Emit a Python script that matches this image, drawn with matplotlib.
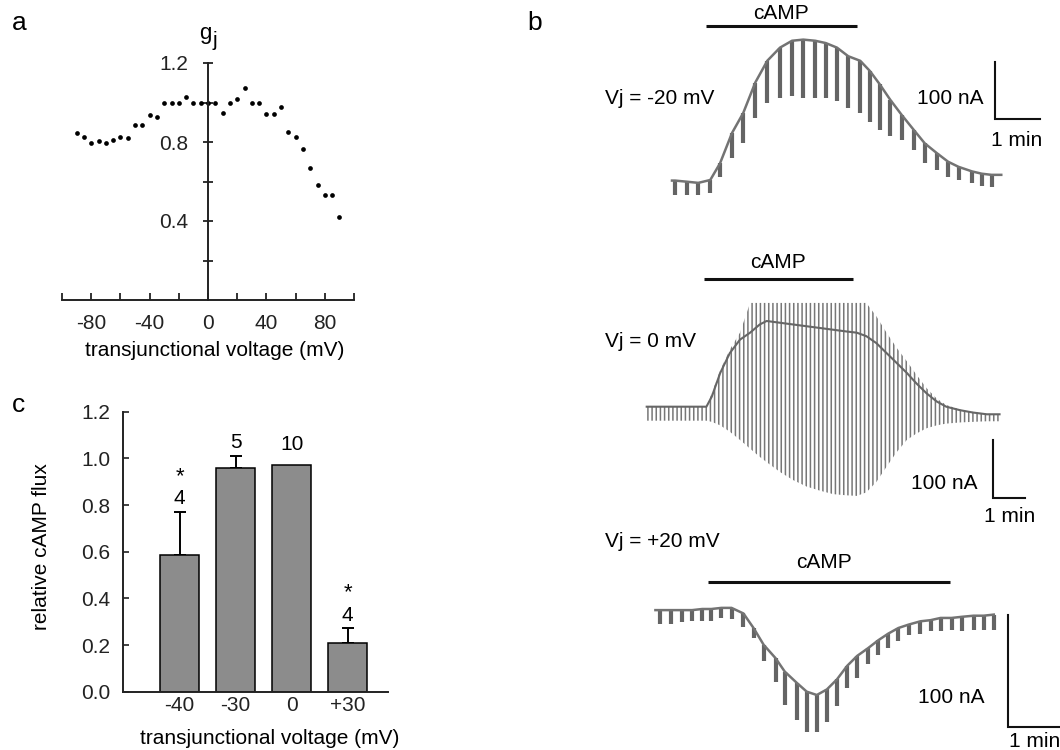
import numpy as np
import matplotlib
matplotlib.use("Agg")
import matplotlib.pyplot as plt

plt.rcParams['font.family'] = ['Liberation Sans', 'DejaVu Sans']
plt.rcParams['axes.unicode_minus'] = False
plt.rcParams['hatch.linewidth'] = 1.1
plt.rcParams['hatch.color'] = '#777777'

# ---------------- data ----------------
# panel a: junctional conductance vs transjunctional voltage
gj_voltage = [-90, -85, -80, -75, -70, -65, -60, -55, -50, -45, -40, -35, -30, -25,
              -20, -15, -10, -5, 0, 5, 10, 15, 20, 25, 30, 35, 40, 45, 50, 55, 60,
              65, 70, 75, 80, 85, 90]
gj_values = [0.845, 0.825, 0.795, 0.805, 0.795, 0.81, 0.825, 0.82, 0.885, 0.885,
             0.935, 0.925, 1.0, 1.0, 1.0, 1.03, 1.0, 1.0, 1.0, 1.0, 0.945, 1.0,
             1.02, 1.075, 1.0, 1.0, 0.94, 0.94, 0.975, 0.85, 0.825, 0.765, 0.67,
             0.58, 0.53, 0.53, 0.42]
a_xticks = [-100, -80, -60, -40, -20, 0, 20, 40, 60, 80, 100]
a_xticklabels = ['', '-80', '', '-40', '', '0', '', '40', '', '80', '']
a_yticks = [0.2, 0.4, 0.6, 0.8, 1.0, 1.2]
a_yticklabels = ['', '0.4', '', '0.8', '', '1.2']

# panel c: relative cAMP flux
c_categories = ['-40', '-30', '0', '+30']
c_flux = [0.585, 0.96, 0.972, 0.207]
c_err = [0.185, 0.05, 0.0, 0.065]
c_n = ['4', '5', '10', '4']
c_signif = [True, False, False, True]
c_yticks = [0.0, 0.2, 0.4, 0.6, 0.8, 1.0, 1.2]

# panel b: current traces (time in s, current in nA relative to initial holding)
neg_t = [0, 16, 31, 47, 60, 76, 91, 107, 123, 140, 156, 171, 187, 201, 216, 231,
         247, 260, 273, 287, 302, 318, 333, 349, 364, 378, 396, 409, 422]
neg_hold = [-1, -3, -5, 0, 29, 82, 117, 170, 208, 231, 243, 245, 243, 239, 231, 216,
            208, 190, 167, 140, 114, 88, 64, 47, 32, 23, 15, 11, 9]
neg_pulse = [-26, -26, -26, -22, 6, 38, 64, 108, 135, 143, 146, 143, 143, 143, 137,
             126, 117, 102, 88, 76, 70, 53, 29, 18, 6, 0, -6, -11, -12]

zero_t = [0, 112, 122, 138, 156, 175, 194, 212, 225, 250, 275, 300, 325, 350, 375,
          394, 412, 431, 450, 469, 488, 506, 525, 544, 562, 588, 612, 638, 662]
zero_hold = [0, 0, 17, 58, 92, 115, 127, 141, 147, 144, 141, 138, 135, 132, 129, 127,
             121, 109, 92, 75, 58, 40, 23, 9, 0, -6, -10, -13, -13]
zero_top = [0, 0, 23, 63, 98, 127, 178, 178, 178, 178, 178, 178, 178, 178, 178, 178,
            178, 155, 127, 101, 78, 55, 32, 14, 3, -5, -9, -12, -13]
zero_bottom = [-24, -24, -26, -32, -43, -57, -72, -86, -95, -112, -126, -137, -144,
               -150, -152, -153, -147, -129, -103, -78, -57, -46, -37, -32, -29, -27,
               -26, -25, -25]

pos_t = [0, 12, 24, 35, 46, 56, 67, 78, 91, 102, 113, 126, 136, 149, 160, 171, 182,
         193, 204, 215, 227, 238, 249, 260, 271, 284, 295, 306, 318, 329, 342, 353, 364]
pos_hold = [-1, -1, -1, -1, 0, 0, 1, 1, -4, -17, -32, -44, -56, -66, -74, -77, -72,
            -63, -51, -42, -35, -28, -22, -17, -14, -11, -10, -8, -8, -7, -6, -6, -5]
pos_pulse = [-13, -13, -12, -11, -11, -11, -8, -9, -16, -26, -47, -65, -86, -99, -110,
             -110, -101, -87, -71, -62, -49, -41, -35, -29, -23, -22, -20, -20, -19,
             -20, -19, -19, -19]

# ---------------- figure ----------------
W, H = 1060, 750
fig = plt.figure(figsize=(W / 100, H / 100), dpi=100)
FS = 15


def px_axes(x0, y0, x1, y1):
    return fig.add_axes([x0 / W, 1 - y1 / H, (x1 - x0) / W, (y1 - y0) / H])


def fig_text(x, y, s, **kw):
    return fig.text(x / W, 1 - y / H, s, **kw)


# ---- panel a ----
axa = px_axes(62, 63, 354, 300)
axa.plot(gj_voltage, gj_values, 'o', ms=3.4, color='black', mec='none', clip_on=False)
axa.set_xlim(-100, 100)
axa.set_ylim(0, 1.2)
axa.spines['left'].set_position(('data', 0))
axa.spines['top'].set_visible(False)
axa.spines['right'].set_visible(False)
for s in ('left', 'bottom'):
    axa.spines[s].set_linewidth(1.4)
    axa.spines[s].set_color('#222222')
axa.set_xticks(a_xticks)
axa.set_xticklabels(a_xticklabels)
axa.set_yticks(a_yticks)
axa.set_yticklabels(a_yticklabels)
axa.tick_params(axis='x', direction='in', length=5, width=1.3, pad=10, labelsize=FS,
                colors='#222222')
axa.tick_params(axis='y', direction='inout', length=7, width=1.3, pad=11, labelsize=FS,
                colors='#222222')
axa.patch.set_visible(False)
fig_text(205, 33, 'g', ha='center', va='center', fontsize=FS + 1)
fig_text(215, 40, 'j', ha='center', va='center', fontsize=FS)
fig_text(215, 351, 'transjunctional voltage (mV)', ha='center', va='center', fontsize=FS)
fig_text(12, 30, 'a', ha='left', va='baseline', fontsize=19)

# ---- panel c ----
axc = px_axes(122.7, 411.7, 388, 691.7)
xpos = list(range(len(c_categories)))
axc.bar(xpos, c_flux, width=0.7, color='#8c8c8c', edgecolor='black', linewidth=1.1,
        zorder=2)
for i in xpos:
    if c_err[i] > 0:
        axc.errorbar(i, c_flux[i], yerr=[[0], [c_err[i]]], fmt='none', ecolor='black',
                     elinewidth=1.4, capsize=4, capthick=1.4, zorder=1)
    top = c_flux[i] + c_err[i]
    if c_signif[i]:
        axc.text(i, top + 0.033, c_n[i], ha='center', va='baseline', fontsize=FS)
        axc.text(i, top + 0.128, '*', ha='center', va='baseline', fontsize=FS + 1)
    else:
        axc.text(i, top + 0.035 + (0.03 if c_err[i] == 0 else 0), c_n[i], ha='center',
                 va='baseline', fontsize=FS)
axc.set_xlim(-1.014, 3.72)
axc.set_ylim(0, 1.2)
axc.set_xticks(xpos)
axc.set_xticklabels(c_categories)
axc.set_yticks(c_yticks)
axc.set_yticklabels(['%.1f' % v for v in c_yticks])
axc.spines['top'].set_visible(False)
axc.spines['right'].set_visible(False)
for s in ('left', 'bottom'):
    axc.spines[s].set_linewidth(1.4)
    axc.spines[s].set_color('#222222')
axc.tick_params(axis='x', length=0, pad=3, labelsize=FS, colors='#222222')
axc.tick_params(axis='y', direction='in', length=4, width=1.2, pad=9, labelsize=FS,
                colors='#222222')
axc.patch.set_visible(False)
fig_text(270, 738, 'transjunctional voltage (mV)', ha='center', va='center', fontsize=FS)
fig_text(42, 547, 'relative cAMP flux', ha='center', va='center', rotation=90,
         fontsize=FS)
fig_text(12, 412, 'c', ha='left', va='baseline', fontsize=19)

# ---- panel b ----
fig_text(527, 30, 'b', ha='left', va='baseline', fontsize=19)


def trace_axes(box, origin, sx, sy):
    x0, y0, x1, y1 = box
    ax = px_axes(x0, y0, x1, y1)
    ox, oy = origin
    ax.set_xlim((x0 - ox) / sx, (x1 - ox) / sx)
    ax.set_ylim((oy - y1) / sy, (oy - y0) / sy)
    ax.axis('off')
    ax.patch.set_visible(False)
    return ax


def annotate_trace(ax, vj, vj_xy, camp_x, camp_y, camp_txt_xy, corner, nA_xy, min_xy,
                   bar_w=60):
    ax.text(vj_xy[0], vj_xy[1], vj, ha='left', va='center', fontsize=FS, clip_on=False)
    ax.plot(camp_x, [camp_y, camp_y], color='#111111', lw=2.2, solid_capstyle='butt',
            clip_on=False)
    ax.text(camp_txt_xy[0], camp_txt_xy[1], 'cAMP', ha='center', va='center',
            fontsize=FS, clip_on=False)
    cx, cy = corner
    ax.plot([cx, cx, cx + bar_w], [cy + 100, cy, cy], color='#111111', lw=1.5,
            solid_joinstyle='miter', clip_on=False)
    ax.text(nA_xy[0], nA_xy[1], '100 nA', ha='right', va='center', fontsize=FS,
            clip_on=False)
    ax.text(min_xy[0], min_xy[1], '1 min', ha='center', va='center', fontsize=FS,
            clip_on=False)


# Vj = -20 mV
ax1 = trace_axes((585, 0, 1060, 205), (675, 180), 0.75, 0.573)
ax1.vlines(neg_t, neg_pulse, neg_hold, color='#646464', lw=3.0)
ax1.plot([neg_t[0] - 4] + neg_t + [neg_t[-1] + 13],
         [neg_hold[0]] + neg_hold + [neg_hold[-1]], color='#737373', lw=1.8)
annotate_trace(ax1, 'Vj = -20 mV', (-93.3, 143), [41.3, 242.7], 268.8, (141.3, 291),
               (426.7, 106.5), (410.7, 143), (456, 69.8))

# Vj = 0 mV
ax2 = trace_axes((585, 255, 1060, 528), (646.7, 406.7), 0.533, 0.583)
ax2.fill_between(zero_t, zero_bottom, zero_top, facecolor='none', edgecolor='#777777',
                 hatch='||||', linewidth=0)
ax2.plot(zero_t, zero_hold, color='#666666', lw=1.5)
annotate_trace(ax2, 'Vj = 0 mV', (-78.2, 111), [107.5, 387], 219, (246, 246.5),
               (649.7, -157), (620.8, -130.9), (681.6, -189))

# Vj = +20 mV
ax3 = trace_axes((585, 530, 1060, 750), (660, 609), 0.917, 1.117)
ax3.vlines(pos_t, pos_pulse, pos_hold, color='#646464', lw=3.0)
ax3.plot([pos_t[0] - 5] + pos_t, [pos_hold[0]] + pos_hold, color='#737373', lw=1.8)
annotate_trace(ax3, 'Vj = +20 mV', (-60, 60), [52.3, 316.3], 24.2, (178.8, 41.2),
               (379.5, -105.4), (354.4, -78.8), (409, -119))

fig.savefig('out.png', dpi=100)
